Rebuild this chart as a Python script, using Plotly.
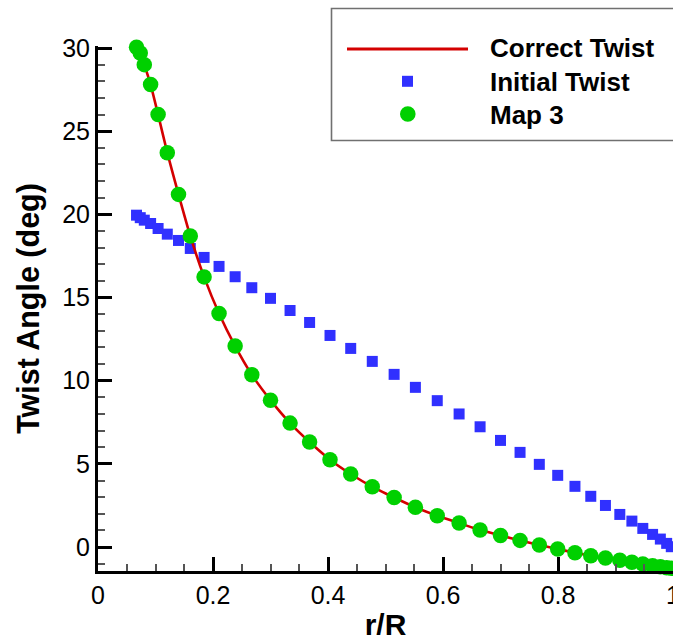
import plotly.graph_objects as go

# ---- data ----
r_over_R = [0.067, 0.0735, 0.0805, 0.0915, 0.1045, 0.1205, 0.140, 0.1605, 0.1845,
            0.2105, 0.2385, 0.2675, 0.300, 0.334, 0.368, 0.4035, 0.4395, 0.477,
            0.515, 0.552, 0.590, 0.628, 0.6645, 0.700, 0.734, 0.7675, 0.7995,
            0.8295, 0.857, 0.8825, 0.9075, 0.9285, 0.9475, 0.9645, 0.978, 0.989, 0.997]

correct_twist = [30.05, 29.7, 29.0, 27.8, 26.0, 23.7, 21.2, 18.7, 16.24,
                 14.04, 12.08, 10.36, 8.83, 7.45, 6.31, 5.25, 4.39, 3.62,
                 2.98, 2.39, 1.88, 1.44, 1.02, 0.70, 0.40, 0.12, -0.12,
                 -0.34, -0.52, -0.66, -0.80, -0.92, -1.02, -1.12, -1.18, -1.24, -1.28]

initial_twist = [19.95, 19.8, 19.65, 19.45, 19.15, 18.81, 18.43, 17.95, 17.41,
                 16.87, 16.25, 15.59, 14.95, 14.22, 13.50, 12.72, 11.94, 11.16,
                 10.38, 9.6, 8.8, 8.0, 7.23, 6.41, 5.69, 4.97, 4.31,
                 3.65, 3.05, 2.50, 1.96, 1.56, 1.12, 0.76, 0.48, 0.22, 0.02]

map3_twist = correct_twist

legend_labels = ["Correct Twist", "Initial Twist", "Map 3"]
x_ticks = [0, 0.2, 0.4, 0.6, 0.8, 1]
x_tick_text = ["0", "0.2", "0.4", "0.6", "0.8", "1"]
y_ticks = [0, 5, 10, 15, 20, 25, 30]

RED = "#D40000"
BLUE = "#3030FF"
GREEN = "#00D000"
FONT = "Liberation Sans, Arial, sans-serif"

# ---- layout geometry (pixels) ----
WIDTH, HEIGHT = 673, 642
L, T, B, R = 98, 46, 71, 0
PW = WIDTH - L - R
PH = HEIGHT - T - B

def px2x(px):
    return (px - L) / PW

def py2y(py):
    return (T + PH - py) / PH

fig = go.Figure()

fig.add_trace(go.Scatter(
    x=r_over_R, y=initial_twist, mode="markers", name=legend_labels[1],
    marker=dict(symbol="square", size=11, color=BLUE, line=dict(width=0)),
    cliponaxis=False, showlegend=False))

fig.add_trace(go.Scatter(
    x=r_over_R, y=correct_twist, mode="lines", name=legend_labels[0],
    line=dict(color=RED, width=2.6, shape="spline", smoothing=0.6),
    cliponaxis=False, showlegend=False))

fig.add_trace(go.Scatter(
    x=r_over_R, y=map3_twist, mode="markers", name=legend_labels[2],
    marker=dict(symbol="circle", size=15.5, color=GREEN, line=dict(width=0)),
    cliponaxis=False, showlegend=False))

# ---- manual legend (Tecplot style) ----
shapes = [
    dict(type="rect", xref="paper", yref="paper",
         x0=px2x(331.5), x1=px2x(700), y0=py2y(140.5), y1=py2y(8.5),
         line=dict(color="#707070", width=1.6), fillcolor="rgba(0,0,0,0)", layer="above"),
    dict(type="line", xref="paper", yref="paper",
         x0=px2x(347), x1=px2x(468), y0=py2y(49), y1=py2y(49),
         line=dict(color=RED, width=3)),
    dict(type="rect", xref="paper", yref="paper", xsizemode="pixel", ysizemode="pixel",
         xanchor=px2x(407.5), yanchor=py2y(81.3), x0=-5.5, x1=5.5, y0=-5.5, y1=5.5,
         fillcolor=BLUE, line=dict(width=0)),
    dict(type="circle", xref="paper", yref="paper", xsizemode="pixel", ysizemode="pixel",
         xanchor=px2x(407.8), yanchor=py2y(114), x0=-7.8, x1=7.8, y0=-7.8, y1=7.8,
         fillcolor=GREEN, line=dict(width=0)),
]

annotations = []
for label, yc in zip(legend_labels, [47, 81, 114]):
    annotations.append(dict(
        text="<b>%s</b>" % label, xref="paper", yref="paper",
        x=px2x(488), y=py2y(yc + 1), xanchor="left", yanchor="middle",
        showarrow=False, font=dict(family=FONT, size=26, color="black")))

fig.update_layout(
    width=WIDTH, height=HEIGHT,
    margin=dict(l=L, r=R, t=T, b=B, pad=0),
    paper_bgcolor="white", plot_bgcolor="white",
    showlegend=False,
    shapes=shapes, annotations=annotations,
    font=dict(family=FONT, color="black"),
)

fig.update_xaxes(
    range=[0, 1], tickvals=x_ticks, ticktext=x_tick_text,
    showgrid=False, zeroline=False,
    showline=True, linecolor="black", linewidth=3,
    ticks="inside", ticklen=14, tickwidth=3, tickcolor="black",
    tickfont=dict(family=FONT, size=25, color="black"),
    ticklabeloverflow="allow",
    minor=dict(dtick=0.05, ticks="inside", ticklen=7, tickwidth=1.5, tickcolor="#555555", showgrid=False),
    title=dict(text="<b>r/R</b>", font=dict(family=FONT, size=30, color="black"), standoff=6),
    automargin=False,
)

fig.update_yaxes(
    range=[-1.44, 30.12], tickvals=y_ticks,
    showgrid=False, zeroline=False,
    showline=True, linecolor="black", linewidth=3,
    ticks="inside", ticklen=14, tickwidth=3, tickcolor="black",
    tickfont=dict(family=FONT, size=25, color="black"),
    minor=dict(dtick=1, ticks="inside", ticklen=7, tickwidth=1.5, tickcolor="#555555", showgrid=False),
    title=dict(text="<b>Twist Angle (deg)</b>", font=dict(family=FONT, size=30.5, color="black"), standoff=14),
    automargin=False,
)

fig.write_html("out.html")
